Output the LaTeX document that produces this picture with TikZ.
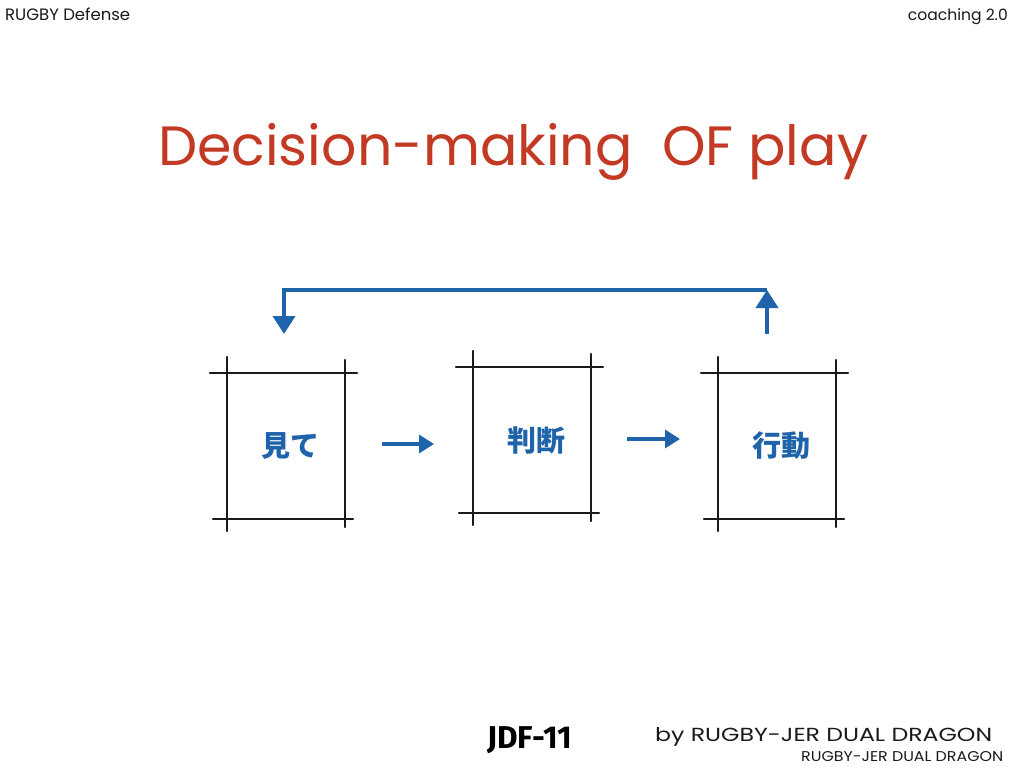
\documentclass[tikz,border=0pt]{standalone}
\usepackage{fontspec}
\setmainfont{Lato}
\newfontfamily\cjk{Noto Sans CJK JP}
\newfontfamily\hand{Poppins}
\newfontfamily\boldsans{Fira Sans}
\usetikzlibrary{arrows.meta}
\definecolor{dblue}{HTML}{1F64AA}
\definecolor{dred}{HTML}{C33A24}
\definecolor{ink}{HTML}{1A1A1A}
\tikzset{
  sketch/.style={draw=ink, line width=1.8pt, line cap=round},
  boxnode/.style={minimum width=118pt, minimum height=146pt, inner sep=0pt,
    font=\cjk\bfseries\fontsize{29}{29}\selectfont, text=dblue},
  arr/.style={draw=dblue, line width=3.4pt, -{Triangle[length=15pt,width=18pt]}},
  fb/.style={draw=dblue, line width=3.8pt, -{Triangle[length=18pt,width=22pt]}},
  lbl/.style={inner sep=0pt, anchor=base west, text=ink},
}
\newcommand{\sketchbox}[1]{%
  \draw[sketch] ([xshift=-17pt]#1.north west) -- ([xshift=12pt]#1.north east);
  \draw[sketch] ([xshift=-14pt]#1.south west) -- ([xshift=8pt]#1.south east);
  \draw[sketch] ([yshift=16pt]#1.north west) -- ([yshift=-12pt]#1.south west);
  \draw[sketch] ([yshift=13pt]#1.north east) -- ([yshift=-8pt]#1.south east);
}
\begin{document}
\begin{tikzpicture}[x=1pt,y=-1pt]
\useasboundingbox[fill=white] (0,0) rectangle (1024,768);

% header labels
\node[lbl] (hdl) at (5,21) {\resizebox{125pt}{!}{\hand\fontsize{12}{12}\selectfont RUGBY Defense}};
\node[lbl, anchor=base east] (hdr) at (1008,21) {\resizebox{100pt}{!}{\hand\fontsize{12}{12}\selectfont coaching 2.0}};

% title
\node[lbl, text=dred] (title) at (158,165) {\resizebox{710pt}{!}{\hand\fontsize{50}{50}\selectfont Decision-making\ \ OF play}};

% boxes
\node[boxnode] (see) at (286,446) {\hspace*{8pt}見て};
\node[boxnode] (judge) at (532,440) {\hspace*{8pt}判断};
\node[boxnode] (act) at (777,446) {\hspace*{8pt}行動};
\sketchbox{see}
\sketchbox{judge}
\sketchbox{act}

% arrows between boxes
\coordinate (a1s) at (382,444);
\coordinate (a1e) at (434,444);
\coordinate (a2s) at (627,439);
\coordinate (a2e) at (680,439);
\draw[arr] (a1s) -- (a1e);
\draw[arr] (a2s) -- (a2e);

% feedback loop
\coordinate (fbs) at (767,334);
\coordinate (fbt) at (767,290);
\coordinate (fbe) at (284,334);
\draw[fb] (fbs) -- (fbt);
\draw[fb] (fbt) -| (fbe);

% footer
\node[lbl, text=black] (jdf) at (487,748) {\resizebox{85pt}{!}{\boldsans\bfseries\fontsize{27}{27}\selectfont JDF-11}};
\node[lbl] (by) at (655,741) {\resizebox{337pt}{14pt}{\hand\fontsize{20}{20}\selectfont by RUGBY-JER DUAL DRAGON}};
\node[lbl] (by2) at (801,761) {\resizebox{202pt}{10pt}{\hand\fontsize{12}{12}\selectfont RUGBY-JER DUAL DRAGON}};
\end{tikzpicture}
\end{document}
